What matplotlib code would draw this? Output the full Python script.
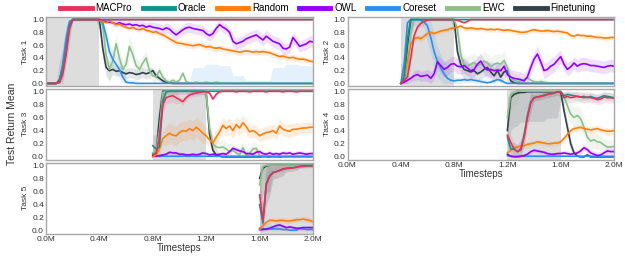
import numpy as np
import matplotlib
matplotlib.use('Agg')
import matplotlib.pyplot as plt
from matplotlib.lines import Line2D

plt.rcParams['font.family'] = ['Liberation Sans', 'DejaVu Sans']

# methods and colours
methods = ['MACPro', 'Oracle', 'Random', 'OWL', 'Coreset', 'EWC', 'Finetuning']
colors = {'MACPro': '#e2335c', 'Oracle': '#14918f', 'Random': '#ff7f0e',
          'OWL': '#9000ff', 'Coreset': '#2f8fe6', 'EWC': '#8cc08a',
          'Finetuning': '#33414e'}
draw_order = ['Finetuning', 'EWC', 'Coreset', 'OWL', 'Random', 'Oracle', 'MACPro']

task_starts = [0.0, 0.4, 0.8, 1.2, 1.6]   # in millions of timesteps
step = 0.025
xticks = [0.0, 0.4, 0.8, 1.2, 1.6, 2.0]
xtick_labels = ['0.0M', '0.4M', '0.8M', '1.2M', '1.6M', '2.0M']

# ---------------- Task 1 (0.0M -> 2.0M) ----------------
t1_macpro = [0, 0, 0, 0, 0.02, 0.15, 0.45, 0.85, 1.0,
             1.0, 1.0, 1.0, 1.0, 1.0, 1.0, 1.0, 1.0,
             1.0, 1.0, 1.0, 1.0, 1.0, 1.0, 1.0, 1.0,
             1.0, 1.0, 1.0, 1.0, 1.0, 1.0, 1.0, 1.0,
             1.0, 1.0, 1.0, 1.0, 1.0, 1.0, 1.0, 1.0,
             1.0, 1.0, 1.0, 1.0, 1.0, 1.0, 1.0, 1.0,
             1.0, 1.0, 1.0, 1.0, 1.0, 1.0, 1.0, 1.0,
             1.0, 1.0, 1.0, 1.0, 1.0, 1.0, 1.0, 1.0,
             1.0, 1.0, 1.0, 1.0, 1.0, 1.0, 1.0, 1.0,
             1.0, 1.0, 1.0, 1.0, 1.0, 1.0, 1.0, 1.0]
t1_oracle = [0, 0, 0, 0, 0.02, 0.2, 0.5, 0.9, 1.0,
             1.0, 1.0, 1.0, 1.0, 1.0, 1.0, 1.0, 1.0,
             1.0, 1.0, 1.0, 1.0, 1.0, 1.0, 1.0, 1.0,
             1.0, 1.0, 1.0, 1.0, 1.0, 1.0, 1.0, 1.0,
             1.0, 1.0, 1.0, 1.0, 1.0, 1.0, 1.0, 1.0,
             1.0, 1.0, 1.0, 1.0, 1.0, 1.0, 1.0, 1.0,
             1.0, 1.0, 1.0, 1.0, 1.0, 1.0, 1.0, 1.0,
             1.0, 1.0, 1.0, 1.0, 1.0, 1.0, 1.0, 1.0,
             1.0, 1.0, 1.0, 1.0, 1.0, 1.0, 1.0, 1.0,
             1.0, 1.0, 1.0, 1.0, 1.0, 1.0, 1.0, 1.0]
t1_random = [0, 0, 0, 0, 0.02, 0.18, 0.5, 0.88, 1.0,
             1.0, 1.0, 1.0, 1.0, 1.0, 1.0, 1.0, 1.0,
             0.97, 0.95, 0.98, 0.95, 0.92, 0.93, 0.9, 0.88,
             0.86, 0.88, 0.85, 0.84, 0.86, 0.83, 0.82, 0.8,
             0.81, 0.78, 0.76, 0.73, 0.7, 0.67, 0.64, 0.63,
             0.62, 0.61, 0.6, 0.59, 0.6, 0.61, 0.59, 0.57,
             0.58, 0.56, 0.55, 0.56, 0.54, 0.53, 0.52, 0.51,
             0.5, 0.49, 0.5, 0.51, 0.5, 0.49, 0.5, 0.49,
             0.5, 0.49, 0.48, 0.46, 0.44, 0.42, 0.43, 0.41,
             0.4, 0.41, 0.39, 0.38, 0.38, 0.37, 0.35, 0.34]
t1_owl = [0, 0, 0, 0, 0.02, 0.18, 0.5, 0.88, 1.0,
          1.0, 1.0, 1.0, 1.0, 1.0, 1.0, 1.0, 1.0,
          0.98, 0.97, 0.96, 0.95, 0.93, 0.95, 0.93, 0.92,
          0.93, 0.91, 0.92, 0.9, 0.91, 0.88, 0.9, 0.88,
          0.87, 0.86, 0.84, 0.87, 0.85, 0.8, 0.76, 0.8,
          0.84, 0.87, 0.88, 0.86, 0.85, 0.84, 0.83, 0.78,
          0.75, 0.78, 0.86, 0.92, 0.88, 0.85, 0.8, 0.66,
          0.62, 0.64, 0.66, 0.7, 0.72, 0.74, 0.76, 0.72,
          0.68, 0.74, 0.7, 0.66, 0.64, 0.62, 0.55, 0.54,
          0.57, 0.72, 0.65, 0.58, 0.6, 0.62, 0.66, 0.65]
t1_coreset = [0, 0, 0, 0, 0.03, 0.3, 0.7, 0.97, 1.0,
              1.0, 1.0, 1.0, 1.0, 1.0, 1.0, 1.0, 1.0,
              0.95, 0.75, 0.5, 0.38, 0.3, 0.22, 0.1, 0.02,
              0.01, 0.01, 0, 0, 0, 0, 0, 0,
              0, 0, 0, 0, 0, 0, 0, 0,
              0, 0, 0, 0, 0, 0, 0, 0,
              0, 0, 0, 0, 0, 0, 0, 0,
              0, 0, 0, 0, 0, 0, 0, 0,
              0, 0, 0, 0, 0, 0, 0, 0,
              0, 0, 0, 0, 0, 0, 0, 0]
t1_ewc = [0, 0, 0, 0, 0.02, 0.2, 0.55, 0.9, 1.0,
          1.0, 1.0, 1.0, 1.0, 1.0, 1.0, 1.0, 1.0,
          0.9, 0.45, 0.22, 0.35, 0.62, 0.4, 0.22, 0.3,
          0.58, 0.45, 0.28, 0.22, 0.32, 0.4, 0.2, 0.12,
          0.1, 0.2, 0.1, 0.04, 0.02, 0.05, 0.02, 0.05,
          0.16, 0.03, 0.01, 0.01, 0.02, 0.01, 0.01, 0.02,
          0.01, 0.01, 0.02, 0.01, 0.01, 0, 0.01, 0,
          0, 0, 0, 0, 0, 0, 0, 0,
          0, 0, 0, 0, 0, 0, 0, 0,
          0, 0, 0, 0, 0, 0, 0, 0]
t1_finetune = [0, 0, 0, 0, 0.05, 0.25, 0.6, 0.9, 1.0,
               1.0, 1.0, 1.0, 1.0, 1.0, 1.0, 1.0, 1.0,
               0.55, 0.25, 0.2, 0.22, 0.19, 0.2, 0.17, 0.15,
               0.17, 0.16, 0.14, 0.15, 0.17, 0.15, 0.17, 0.2,
               0.12, 0.08, 0.04, 0.02, 0.01, 0, 0, 0,
               0, 0, 0, 0, 0, 0, 0, 0,
               0, 0, 0, 0, 0, 0, 0, 0,
               0, 0, 0, 0, 0, 0, 0, 0,
               0, 0, 0, 0, 0, 0, 0, 0,
               0, 0, 0, 0, 0, 0, 0, 0]

# ---------------- Task 2 (0.4M -> 2.0M) ----------------
t2_macpro = [0, 0.05, 0.1, 0.4, 0.75, 0.88, 0.94, 0.97,
             0.99, 1.0, 1.0, 1.0, 1.0, 1.0, 1.0, 1.0,
             1.0, 0.99, 0.97, 0.95, 0.97, 1.0, 1.0, 1.0,
             1.0, 1.0, 1.0, 1.0, 1.0, 1.0, 1.0, 1.0,
             1.0, 1.0, 1.0, 1.0, 1.0, 1.0, 1.0, 1.0,
             1.0, 1.0, 1.0, 1.0, 1.0, 1.0, 1.0, 1.0,
             1.0, 1.0, 1.0, 1.0, 1.0, 1.0, 1.0, 1.0,
             1.0, 1.0, 1.0, 1.0, 1.0, 1.0, 1.0, 1.0, 1.0]
t2_oracle = [0, 0.1, 0.7, 1.0, 1.0, 1.0, 1.0, 1.0,
             1.0, 1.0, 1.0, 1.0, 1.0, 1.0, 1.0, 1.0,
             1.0, 1.0, 1.0, 1.0, 1.0, 1.0, 1.0, 1.0,
             1.0, 1.0, 1.0, 1.0, 1.0, 1.0, 1.0, 1.0,
             1.0, 1.0, 1.0, 1.0, 1.0, 1.0, 1.0, 1.0,
             1.0, 1.0, 1.0, 1.0, 1.0, 1.0, 1.0, 1.0,
             1.0, 1.0, 1.0, 1.0, 1.0, 1.0, 1.0, 1.0,
             1.0, 1.0, 1.0, 1.0, 1.0, 1.0, 1.0, 1.0, 1.0]
t2_random = [0, 0.08, 0.35, 0.62, 0.7, 0.72, 0.7, 0.74,
             0.78, 0.8, 0.78, 0.8, 0.82, 0.83, 0.84, 0.86,
             0.87, 0.88, 0.9, 0.87, 0.86, 0.87, 0.86, 0.85,
             0.86, 0.85, 0.84, 0.85, 0.84, 0.85, 0.84, 0.83,
             0.84, 0.83, 0.82, 0.81, 0.8, 0.8, 0.81, 0.83,
             0.84, 0.83, 0.82, 0.82, 0.83, 0.82, 0.81, 0.82,
             0.81, 0.8, 0.79, 0.75, 0.74, 0.76, 0.75, 0.75,
             0.74, 0.74, 0.73, 0.72, 0.72, 0.71, 0.71, 0.72, 0.72]
t2_owl = [0, 0.02, 0.05, 0.08, 0.12, 0.14, 0.11, 0.12,
          0.13, 0.08, 0.15, 0.34, 0.28, 0.22, 0.25, 0.3,
          0.31, 0.27, 0.26, 0.28, 0.24, 0.2, 0.22, 0.3,
          0.35, 0.26, 0.21, 0.22, 0.2, 0.21, 0.2, 0.27,
          0.14, 0.1, 0.08, 0.07, 0.06, 0.04, 0.1, 0.25,
          0.38, 0.46, 0.34, 0.2, 0.22, 0.27, 0.3, 0.36,
          0.42, 0.3, 0.22, 0.26, 0.32, 0.27, 0.3, 0.31,
          0.3, 0.28, 0.28, 0.27, 0.26, 0.25, 0.27, 0.28, 0.27]
t2_coreset = [0, 0.3, 0.95, 1.0, 1.0, 1.0, 0.99, 0.96,
              0.9, 0.72, 0.5, 0.34, 0.24, 0.15, 0.08, 0.05,
              0.04, 0.05, 0.05, 0.06, 0.05, 0.06, 0.05, 0.04,
              0.03, 0.02, 0.01, 0.02, 0.04, 0.06, 0.05, 0.02,
              0, 0, 0, 0, 0, 0, 0, 0,
              0, 0, 0, 0, 0, 0, 0, 0,
              0, 0, 0, 0, 0, 0, 0, 0,
              0, 0, 0, 0, 0, 0, 0, 0, 0]
t2_ewc = [0, 0.02, 0.15, 0.8, 1.0, 1.0, 1.0, 1.0,
          1.0, 1.0, 1.0, 1.0, 1.0, 1.0, 1.0, 1.0,
          1.0, 0.85, 0.45, 0.3, 0.27, 0.3, 0.33, 0.28,
          0.3, 0.35, 0.32, 0.26, 0.3, 0.32, 0.3, 0.36,
          0.25, 0.08, 0.05, 0.03, 0.04, 0.06, 0.09, 0.05,
          0.03, 0.02, 0.03, 0.02, 0.01, 0.01, 0.01, 0,
          0, 0, 0, 0, 0, 0, 0, 0,
          0, 0, 0, 0, 0, 0, 0, 0, 0]
t2_finetune = [0, 0.05, 0.6, 1.0, 1.0, 1.0, 1.0, 1.0,
               1.0, 1.0, 1.0, 1.0, 1.0, 1.0, 1.0, 1.0,
               1.0, 0.5, 0.3, 0.22, 0.2, 0.18, 0.2, 0.15,
               0.18, 0.22, 0.25, 0.18, 0.12, 0.2, 0.1, 0.18,
               0.2, 0.04, 0.01, 0, 0, 0, 0, 0,
               0, 0, 0, 0, 0, 0, 0, 0,
               0, 0, 0, 0, 0, 0, 0, 0,
               0, 0, 0, 0, 0, 0, 0, 0, 0]

# ---------------- Task 3 (0.8M -> 2.0M) ----------------
t3_macpro = [0.04, 0.05, 0.3, 0.8, 0.9, 0.92, 0.93, 0.9,
             0.87, 0.84, 0.9, 0.94, 0.96, 0.97, 0.98, 0.99,
             0.99, 0.97, 0.88, 0.95, 0.99, 1.0, 1.0, 1.0,
             1.0, 0.99, 1.0, 1.0, 1.0, 0.99, 1.0, 1.0,
             1.0, 1.0, 0.99, 1.0, 1.0, 1.0, 1.0, 0.99,
             1.0, 1.0, 1.0, 0.99, 1.0, 1.0, 1.0, 1.0, 1.0]
t3_oracle = [0.17, 0.12, 0.15, 0.85, 0.99, 1.0, 1.0, 1.0,
             1.0, 1.0, 1.0, 1.0, 1.0, 1.0, 1.0, 1.0,
             1.0, 1.0, 1.0, 1.0, 1.0, 1.0, 1.0, 1.0,
             1.0, 1.0, 1.0, 1.0, 1.0, 1.0, 1.0, 1.0,
             1.0, 1.0, 1.0, 1.0, 1.0, 1.0, 1.0, 1.0,
             1.0, 1.0, 1.0, 1.0, 1.0, 1.0, 1.0, 1.0, 1.0]
t3_random = [0, 0.03, 0.12, 0.28, 0.32, 0.36, 0.33, 0.32,
             0.37, 0.4, 0.39, 0.43, 0.4, 0.45, 0.41, 0.36,
             0.32, 0.26, 0.21, 0.3, 0.38, 0.48, 0.43, 0.47,
             0.4, 0.49, 0.44, 0.52, 0.46, 0.38, 0.4, 0.37,
             0.32, 0.35, 0.37, 0.38, 0.4, 0.36, 0.47, 0.42,
             0.4, 0.39, 0.42, 0.42, 0.43, 0.44, 0.44, 0.45, 0.45]
t3_owl = [0.01, 0.01, 0.02, 0.03, 0.04, 0.07, 0.06, 0.06,
          0.04, 0.04, 0.03, 0.03, 0.04, 0.03, 0.04, 0.06,
          0.05, 0.03, 0.04, 0.03, 0.04, 0.05, 0.04, 0.08,
          0.13, 0.11, 0.09, 0.08, 0.05, 0.05, 0.04, 0.07,
          0.08, 0.05, 0.04, 0.06, 0.04, 0.05, 0.04, 0.06,
          0.05, 0.06, 0.04, 0.05, 0.06, 0.05, 0.04, 0.05, 0.05]
t3_coreset = [0.03, 0.02, 0.01, 0.01, 0.01, 0.01, 0.01, 0.01,
              0.01, 0.01, 0.01, 0.01, 0.01, 0.01, 0.01, 0.01,
              0.01, 0.01, 0.01, 0.01, 0.01, 0.01, 0.01, 0.01,
              0.01, 0.01, 0.01, 0.01, 0.01, 0.01, 0.01, 0.01,
              0.01, 0.01, 0.01, 0.01, 0.01, 0.01, 0.01, 0.01,
              0.01, 0.01, 0.01, 0.01, 0.01, 0.01, 0.01, 0.01, 0.01]
t3_ewc = [0.06, 0.1, 0.4, 0.98, 1.0, 1.0, 1.0, 1.0,
          1.0, 1.0, 1.0, 1.0, 1.0, 1.0, 1.0, 1.0,
          0.97, 0.45, 0.2, 0.15, 0.14, 0.15, 0.12, 0.08,
          0.1, 0.06, 0.03, 0.14, 0.03, 0.05, 0.12, 0.13,
          0.02, 0, 0, 0.01, 0, 0, 0.01, 0,
          0, 0, 0, 0, 0, 0, 0, 0, 0]
t3_finetune = [0.02, 0.05, 0.6, 1.0, 1.0, 1.0, 1.0, 1.0,
               1.0, 1.0, 1.0, 1.0, 1.0, 1.0, 1.0, 1.0,
               0.98, 0.35, 0.1, 0.03, 0.01, 0, 0, 0,
               0, 0, 0, 0, 0, 0, 0, 0,
               0, 0, 0, 0, 0, 0, 0, 0,
               0, 0, 0, 0, 0, 0, 0, 0, 0]

# ---------------- Task 4 (1.2M -> 2.0M) ----------------
t4_macpro = [0.33, 0.22, 0.12, 0.08, 0.1, 0.3, 0.6, 0.82,
             0.9, 0.91, 0.92, 0.93, 0.95, 0.96, 0.97, 0.99,
             0.99, 0.9, 0.92, 0.9, 0.91, 0.92, 0.91, 0.9,
             0.91, 0.9, 0.89, 0.87, 0.88, 0.91, 0.9, 0.9, 0.89]
t4_oracle = [0.3, 0.12, 0.12, 0.08, 0.12, 0.32, 0.62, 0.83,
             0.9, 0.91, 0.92, 0.94, 0.95, 0.96, 0.97, 0.99,
             0.99, 0.93, 0.95, 0.94, 0.93, 0.92, 0.91, 0.92,
             0.9, 0.92, 0.9, 0.89, 0.91, 0.93, 0.92, 0.91, 0.9]
t4_random = [0.06, 0.1, 0.14, 0.15, 0.16, 0.17, 0.19, 0.2,
             0.21, 0.23, 0.22, 0.21, 0.2, 0.2, 0.21, 0.21,
             0.23, 0.28, 0.34, 0.4, 0.43, 0.44, 0.45, 0.43,
             0.42, 0.41, 0.42, 0.43, 0.41, 0.4, 0.39, 0.39, 0.4]
t4_owl = [0.04, 0.01, 0, 0, 0.01, 0.02, 0.04, 0.08,
          0.1, 0.09, 0.08, 0.07, 0.05, 0.04, 0.04, 0.05,
          0.05, 0.06, 0.05, 0.04, 0.05, 0.06, 0.09, 0.14,
          0.11, 0.06, 0.04, 0.02, 0.03, 0.06, 0.09, 0.08, 0.08]
t4_coreset = [0.02, 0.01, 0.01, 0.01, 0.01, 0.01, 0.01, 0.01,
              0.01, 0.01, 0.01, 0.01, 0.01, 0.01, 0.01, 0.01,
              0.01, 0.01, 0.01, 0.01, 0.01, 0.01, 0.01, 0.01,
              0.01, 0.01, 0.01, 0.01, 0.01, 0.01, 0.01, 0.01, 0.01]
t4_ewc = [0.6, 0.95, 0.99, 1.0, 1.0, 1.0, 1.0, 1.0,
          1.0, 1.0, 1.0, 1.0, 1.0, 1.0, 1.0, 1.0,
          1.0, 0.92, 0.78, 0.65, 0.6, 0.63, 0.58, 0.45,
          0.3, 0.24, 0.26, 0.23, 0.22, 0.18, 0.15, 0.15, 0.16]
t4_finetune = [0.4, 0.9, 0.95, 0.97, 0.98, 0.98, 0.99, 0.99,
               0.99, 0.99, 0.99, 0.99, 0.99, 0.99, 0.99, 0.99,
               0.99, 0.7, 0.45, 0.2, 0.06, 0.01, 0, 0,
               0.03, 0, 0, 0, 0, 0, 0, 0, 0]

# ---------------- Task 5 (1.6M -> 2.0M) ----------------
t5_macpro = [0.55, 0.15, 0.7, 0.83, 0.88, 0.9, 0.92, 0.94,
             0.95, 0.95, 0.96, 0.97, 0.98, 0.98, 0.99, 0.99, 0.99]
t5_oracle = [0.4, 0.12, 0.72, 0.84, 0.89, 0.9, 0.92, 0.94,
             0.95, 0.96, 0.96, 0.97, 0.98, 0.99, 0.99, 0.99, 0.99]
t5_random = [0.02, 0.08, 0.13, 0.16, 0.16, 0.15, 0.16, 0.16,
             0.15, 0.15, 0.16, 0.17, 0.17, 0.18, 0.17, 0.16, 0.14]
t5_owl = [0.02, 0.02, 0.03, 0.04, 0.06, 0.08, 0.09, 0.07,
          0.05, 0.06, 0.05, 0.04, 0.04, 0.05, 0.05, 0.05, 0.05]
t5_coreset = [0.04, 0.03, 0.02, 0.03, 0.03, 0.03, 0.03, 0.02,
              0.02, 0.01, 0.01, 0.01, 0.04, 0.03, 0.02, 0.02, 0.02]
t5_ewc = [0.7, 0.98, 1.0, 1.0, 1.0, 1.0, 1.0, 1.0,
          1.0, 1.0, 1.0, 1.0, 1.0, 1.0, 1.0, 1.0, 1.0]
t5_finetune = [0.8, 0.95, 0.99, 1.0, 1.0, 1.0, 1.0, 1.0,
               1.0, 1.0, 1.0, 1.0, 1.0, 1.0, 1.0, 1.0, 1.0]

# std band half-widths, one value per 0.1M segment
t1_spread = {'MACPro': [0.01], 'Oracle': [0.01],
             'Random': [0, 0.1, 0.01, 0.01, 0.02, 0.03, 0.03, 0.04, 0.04, 0.05,
                        0.05, 0.05, 0.05, 0.05, 0.05, 0.05, 0.05, 0.05, 0.05, 0.05],
             'OWL': [0, 0.1, 0.01, 0.01, 0.03, 0.05, 0.06, 0.07, 0.08, 0.08,
                     0.08, 0.08, 0.08, 0.08, 0.09, 0.09, 0.09, 0.09, 0.09, 0.09],
             'Coreset': [0, 0.1, 0.02, 0.02, 0.12, 0.15, 0.05, 0.03, 0.03, 0.02,
                         0.03, 0.25, 0.3, 0.28, 0.12, 0.05, 0.05, 0.25, 0.3, 0.28],
             'EWC': [0, 0.1, 0.01, 0.01, 0.2, 0.15, 0.15, 0.12, 0.1, 0.05,
                     0.03, 0.02, 0.02, 0.02, 0.01, 0.01, 0.01, 0.01, 0.01, 0.01],
             'Finetuning': [0, 0.3, 0.02, 0.02, 0.15, 0.08, 0.08, 0.08, 0.05, 0.03,
                            0, 0, 0, 0, 0, 0, 0, 0, 0, 0]}
t2_spread = {'MACPro': [0.15, 0.05, 0.01, 0.01, 0.01, 0.01, 0.01, 0.01,
                        0.01, 0.01, 0.01, 0.01, 0.01, 0.01, 0.01, 0.01],
             'Oracle': [0.01],
             'Random': [0.1, 0.05, 0.04, 0.04, 0.04, 0.04, 0.04, 0.04,
                        0.04, 0.04, 0.04, 0.04, 0.04, 0.04, 0.04, 0.04],
             'OWL': [0.05, 0.08, 0.1, 0.12, 0.12, 0.12, 0.12, 0.12,
                     0.12, 0.12, 0.12, 0.12, 0.1, 0.1, 0.1, 0.1],
             'Coreset': [0.1, 0.1, 0.25, 0.2, 0.05, 0.04, 0.04, 0.03,
                         0.02, 0.02, 0.02, 0.02, 0.02, 0.02, 0.02, 0.02],
             'EWC': [0.1, 0.02, 0.02, 0.02, 0.15, 0.15, 0.15, 0.15,
                     0.1, 0.05, 0.05, 0.03, 0.02, 0.01, 0.01, 0.01],
             'Finetuning': [0.3, 0.02, 0.02, 0.02, 0.15, 0.12, 0.12, 0.12,
                            0.05, 0.01, 0, 0, 0, 0, 0, 0]}
t3_spread = {'MACPro': [0.15, 0.1, 0.05, 0.05, 0.02, 0.02, 0.02, 0.02, 0.02, 0.02, 0.02, 0.02],
             'Oracle': [0.02],
             'Random': [0.1, 0.15, 0.15, 0.15, 0.12, 0.12, 0.12, 0.1, 0.1, 0.1, 0.1, 0.08],
             'OWL': [0.02, 0.03, 0.03, 0.03, 0.03, 0.03, 0.04, 0.04, 0.04, 0.04, 0.04, 0.04],
             'Coreset': [0.01],
             'EWC': [0.1, 0.02, 0.02, 0.02, 0.12, 0.1, 0.1, 0.1, 0.03, 0.02, 0.01, 0.01],
             'Finetuning': [0.3, 0.05, 0.05, 0.05, 0.1, 0.02, 0.01, 0, 0, 0, 0, 0]}
t4_spread = {'MACPro': [0.1, 0.15, 0.05, 0.05, 0.08, 0.08, 0.08, 0.08],
             'Oracle': [0.1, 0.15, 0.05, 0.05, 0.06, 0.06, 0.06, 0.06],
             'Random': [0.03, 0.04, 0.04, 0.04, 0.05, 0.05, 0.05, 0.05],
             'OWL': [0.02, 0.03, 0.03, 0.03, 0.04, 0.05, 0.05, 0.05],
             'Coreset': [0.01],
             'EWC': [0.2, 0.02, 0.02, 0.02, 0.15, 0.15, 0.12, 0.1],
             'Finetuning': [0.5, 0.45, 0.45, 0.4, 0.1, 0.02, 0.01, 0.01]}
t5_spread = {'MACPro': [0.3, 0.1, 0.05, 0.03], 'Oracle': [0.3, 0.1, 0.05, 0.03],
             'Random': [0.04], 'OWL': [0.02, 0.03, 0.03, 0.03],
             'Coreset': [0.1, 0.05, 0.03, 0.03], 'EWC': [0.2, 0.01, 0.01, 0.01],
             'Finetuning': [0.4, 0.1, 0.05, 0.03]}

tasks = [
    {'MACPro': t1_macpro, 'Oracle': t1_oracle, 'Random': t1_random, 'OWL': t1_owl,
     'Coreset': t1_coreset, 'EWC': t1_ewc, 'Finetuning': t1_finetune},
    {'MACPro': t2_macpro, 'Oracle': t2_oracle, 'Random': t2_random, 'OWL': t2_owl,
     'Coreset': t2_coreset, 'EWC': t2_ewc, 'Finetuning': t2_finetune},
    {'MACPro': t3_macpro, 'Oracle': t3_oracle, 'Random': t3_random, 'OWL': t3_owl,
     'Coreset': t3_coreset, 'EWC': t3_ewc, 'Finetuning': t3_finetune},
    {'MACPro': t4_macpro, 'Oracle': t4_oracle, 'Random': t4_random, 'OWL': t4_owl,
     'Coreset': t4_coreset, 'EWC': t4_ewc, 'Finetuning': t4_finetune},
    {'MACPro': t5_macpro, 'Oracle': t5_oracle, 'Random': t5_random, 'OWL': t5_owl,
     'Coreset': t5_coreset, 'EWC': t5_ewc, 'Finetuning': t5_finetune},
]
spreads = [t1_spread, t2_spread, t3_spread, t4_spread, t5_spread]


def widen(s, n):
    # each coarse value covers four 0.025M steps
    s = np.asarray(s, float)
    if s.size == 1:
        return np.full(n, s[0])
    return np.append(np.repeat(s, 4), s[-1])[:n]


# axes layout in pixels (left, top, right, bottom) of a 625x256 figure
W, H = 625.0, 256.0
boxes = [(46, 17, 313, 86), (347.5, 17, 614, 86), (46, 88.5, 313, 159.5),
         (347.5, 88.5, 614, 159.5), (46, 162.5, 313, 233.5)]
show_xlabels = [False, False, False, True, True]

fig = plt.figure(figsize=(6.25, 2.56), dpi=100)

for k in range(5):
    l, top, r, b = boxes[k]
    ax = fig.add_axes([l / W, 1 - b / H, (r - l) / W, (b - top) / H])
    start = task_starts[k]
    ax.axvspan(start, start + 0.4, color='#dddddd', lw=0, zorder=0)
    for m in methods:
        assert abs(start + step * (len(tasks[k][m]) - 1) - 2.0) < 1e-6, (k, m, len(tasks[k][m]))
    for m in draw_order:
        v = np.array(tasks[k][m], float)
        t = start + step * np.arange(len(v))
        s = widen(spreads[k][m], len(v))
        ax.fill_between(t, np.clip(v - s, 0, 1), np.clip(v + s, 0, 1),
                        color=colors[m], alpha=0.13, lw=0, zorder=1)
    for m in draw_order:
        v = np.array(tasks[k][m], float)
        t = start + step * np.arange(len(v))
        ax.plot(t, v, color=colors[m], lw=1.2, zorder=2)
    ax.set_xlim(0, 2.0)
    ax.set_ylim(-0.04, 1.04)
    ax.set_yticks([0.0, 0.2, 0.4, 0.6, 0.8, 1.0])
    ax.set_yticklabels(['0.0', '0.2', '0.4', '0.6', '0.8', '1.0'])
    ax.set_xticks(xticks)
    if show_xlabels[k]:
        ax.set_xticklabels(xtick_labels)
        ax.set_xlabel('Timesteps', fontsize=7, labelpad=0, color='#333333')
    else:
        ax.set_xticklabels([])
    ax.tick_params(length=0, labelsize=6, pad=1.5, colors='#333333')
    ax.set_ylabel('Task %d' % (k + 1), fontsize=6, labelpad=2, color='#333333')
    for sp in ax.spines.values():
        sp.set_color('#a8a8a8')
        sp.set_linewidth(1.0)

fig.text(12 / W, 1 - 124 / H, 'Test Return Mean', rotation=90, fontsize=7.5,
         ha='center', va='center', color='#333333')

handles = [Line2D([], [], color=colors[m], lw=3.5) for m in methods]
fig.legend(handles, methods, loc='center', bbox_to_anchor=(328 / W, 1 - 8 / H),
           ncol=7, frameon=False, fontsize=7, handlelength=3.2,
           handletextpad=0.4, columnspacing=1.1, borderpad=0)

fig.savefig('out.png', dpi=100)
